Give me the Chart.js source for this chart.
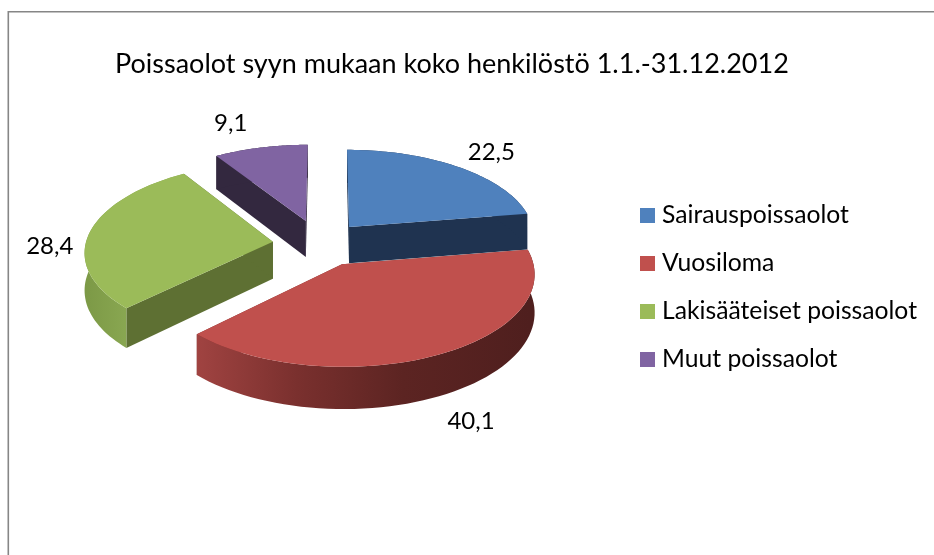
<!DOCTYPE html>
<html><head><meta charset="utf-8">
<style>html,body{margin:0;padding:0;background:#fff}#w{position:absolute;left:0;top:0;width:934px;height:555px}</style>
<script src="https://cdn.jsdelivr.net/npm/chart.js@4/dist/chart.umd.min.js"></script>
</head><body><div id="w"><canvas id="c" width="934" height="555"></canvas></div>
<script>
const titleText = 'Poissaolot syyn mukaan koko henkilöstö 1.1.-31.12.2012';
const categories = ['Sairauspoissaolot','Vuosiloma','Lakisääteiset poissaolot','Muut poissaolot'];
const values = [22.5,40.1,28.4,9.1];
const colors = ['#4f81bd','#c0504d','#9bbb59','#8064a2'];
const wallColors = ['#1f3350','#7a302e','#5e7033','#33283f'];

// 3D view settings (layout only)
const view = {cx:327, cy:243, tilt:0.47, persp:0.10, depth:37};
const explodeX = [0.12,0.078,-0.29,-0.116];
const explodeD = [-0.186,0.235,-0.015,-0.258];
const drawOrder = [3,0,2,1];
const labelOffset = [[33,-15],[32,67],[-40,14],[-30,-24]];
const FONT = 'Lato';

function proj(x,d,R){
  const p = 1/(1-view.persp*d);
  return {x:view.cx+R*x*p, y:view.cy+R*view.tilt*d*p, p};
}
function rimPoints(i,el){
  const a0=el.startAngle+Math.PI/2, a1=el.endAngle+Math.PI/2, pts=[], n=60;
  for(let k=0;k<=n;k++){
    const t=a0+(a1-a0)*k/n;
    pts.push(proj(explodeX[i]+Math.sin(t),explodeD[i]-Math.cos(t),el.outerRadius));
  }
  return pts;
}
function wall(ctx,a,b,color){
  ctx.beginPath();
  ctx.moveTo(a.x,a.y);ctx.lineTo(b.x,b.y);
  ctx.lineTo(b.x,b.y+view.depth*b.p);ctx.lineTo(a.x,a.y+view.depth*a.p);
  ctx.closePath();ctx.fillStyle=color;ctx.fill();
}
function rimFill(ctx,i,pts){
  const g=ctx.createLinearGradient(197,0,530,0);
  if(i===1){g.addColorStop(0,'#a04341');g.addColorStop(.3,'#7a302e');g.addColorStop(.62,'#5c2422');g.addColorStop(1,'#4f1f1e');}
  else if(i===2){const h=ctx.createLinearGradient(85,0,130,0);h.addColorStop(0,'#7c9946');h.addColorStop(1,'#8aa852');return h;}
  else return wallColors[i];
  return g;
}
const pie3d = {
  id:'pie3d',
  beforeDraw(chart){
    const ctx=chart.ctx;
    ctx.save();ctx.strokeStyle='#868686';ctx.lineWidth=1.6;
    ctx.beginPath();ctx.moveTo(8.3,555);ctx.lineTo(8.3,11.7);ctx.lineTo(934,11.7);ctx.stroke();ctx.restore();
  },
  beforeDatasetsDraw(chart){
    const ctx=chart.ctx, arcs=chart.getDatasetMeta(0).data;
    ctx.save();
    drawOrder.forEach(i=>{
      const el=arcs[i], pts=rimPoints(i,el), R=el.outerRadius;
      const apex=proj(explodeX[i],explodeD[i],R);
      wall(ctx,apex,pts[0],wallColors[i]);
      wall(ctx,apex,pts[pts.length-1],wallColors[i]);
      // outer rim
      ctx.beginPath();
      pts.forEach((q,k)=>k?ctx.lineTo(q.x,q.y):ctx.moveTo(q.x,q.y));
      for(let k=pts.length-1;k>=0;k--)ctx.lineTo(pts[k].x,pts[k].y+view.depth*pts[k].p);
      ctx.closePath();ctx.fillStyle=rimFill(ctx,i,pts);ctx.fill();
      // top face
      ctx.beginPath();ctx.moveTo(apex.x,apex.y);
      pts.forEach(q=>ctx.lineTo(q.x,q.y));
      ctx.closePath();ctx.fillStyle=colors[i];ctx.fill();
    });
    // value labels
    ctx.fillStyle='#000';ctx.font='24px '+FONT;ctx.textAlign='center';ctx.textBaseline='middle';
    arcs.forEach((el,i)=>{
      const t=(el.startAngle+el.endAngle)/2+Math.PI/2;
      const q=proj(explodeX[i]+Math.sin(t),explodeD[i]-Math.cos(t),el.outerRadius);
      ctx.fillText(String(values[i]).replace('.',','),q.x+labelOffset[i][0],q.y+labelOffset[i][1]);
    });
    ctx.restore();
    return false;
  }
};
function swatch(color){
  const s=document.createElement('canvas');s.width=15;s.height=15;
  const g=s.getContext('2d');g.fillStyle=color;g.fillRect(0,0,15,15);return s;
}
const baseLabels = Chart.controllers.doughnut.overrides.plugins.legend.labels.generateLabels;
new Chart(document.getElementById('c'),{
  type:'pie',
  data:{labels:categories,datasets:[{data:values,backgroundColor:colors,borderWidth:0,radius:187}]},
  plugins:[pie3d],
  options:{
    responsive:false,animation:false,
    layout:{padding:{left:115,right:7,top:20,bottom:0}},
    plugins:{
      tooltip:{enabled:false},
      title:{display:true,text:titleText,align:'start',color:'#000',font:{family:FONT,size:27,weight:'normal'},padding:{top:28,bottom:28}},
      legend:{position:'right',align:'center',labels:{
        color:'#000',font:{family:FONT,size:24.7},usePointStyle:true,pointStyleWidth:4,padding:23.3,
        generateLabels(chart){return baseLabels(chart).map((l,i)=>Object.assign(l,{pointStyle:swatch(colors[i])}));}
      },onClick:null}
    }
  }
});
</script></body></html>
